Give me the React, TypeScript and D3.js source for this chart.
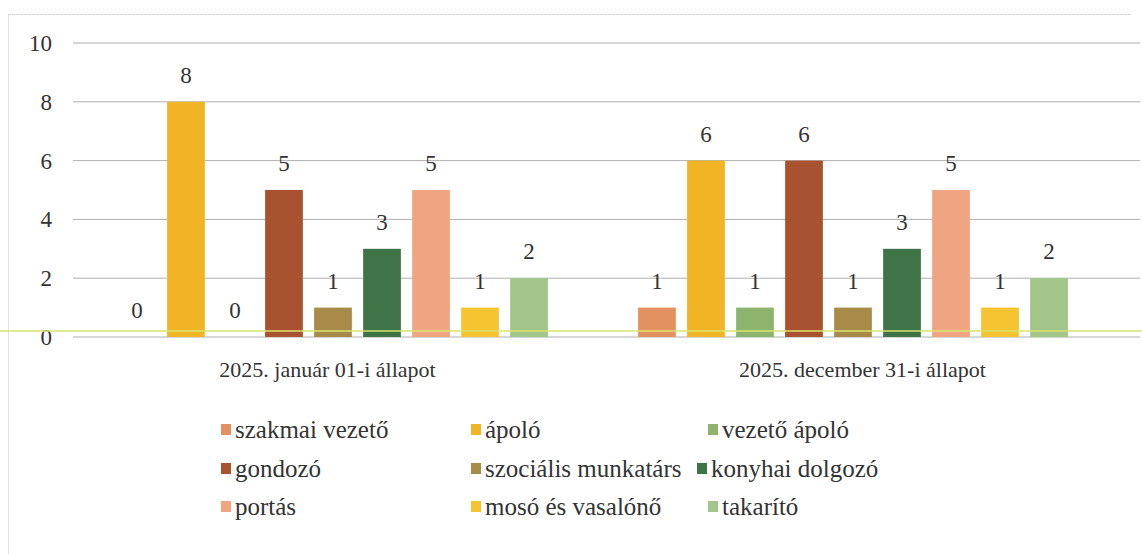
import React from "react";
import * as d3 from "d3";

const groups = ["2025. január 01-i állapot", "2025. december 31-i állapot"];
const seriesNames = [
  "szakmai vezető",
  "ápoló",
  "vezető ápoló",
  "gondozó",
  "szociális munkatárs",
  "konyhai dolgozó",
  "portás",
  "mosó és vasalónő",
  "takarító",
];
const valuesJan = [0, 8, 0, 5, 1, 3, 5, 1, 2];
const valuesDec = [1, 6, 1, 6, 1, 3, 5, 1, 2];
const colors = [
  "#E3915F",
  "#F1B424",
  "#8DB46C",
  "#A9522F",
  "#A98B49",
  "#3F7546",
  "#EFA582",
  "#F5C430",
  "#A2C68A",
];
const yTicks = [0, 2, 4, 6, 8, 10];

const W = 1142;
const H = 554;
const tStyle = { fontFamily: "serif" };

export default function App() {
  const data = [valuesJan, valuesDec];
  const y = d3.scaleLinear().domain([0, 10]).range([337, 43]);
  const x0 = d3.scaleBand<string>().domain(groups).range([73, 1113]).padding(0);
  const xLabel = d3.scaleBand<string>().domain(groups).range([60, 1130]).padding(0);
  const x1 = d3
    .scaleBand<string>()
    .domain(seriesNames)
    .range([0, x0.bandwidth()])
    .paddingInner(0.23)
    .paddingOuter(0.92);

  const legendCols = [221, 471, 708];
  const legendRows = [429, 468, 506];

  return (
    <svg
      width={W}
      height={H}
      style={{ position: "absolute", left: 0, top: 0, background: "#fff" }}
    >
      <rect x={0} y={0} width={W} height={H} fill="#fff" />
      {/* frame */}
      <line x1={8} x2={1132} y1={14.5} y2={14.5} stroke="#d6d6d6" strokeDasharray="3 1" />
      <line x1={8.5} x2={8.5} y1={14} y2={554} stroke="#e2e2e2" />
      {/* grid */}
      {yTicks.map((t) => (
        <g key={t}>
          <line x1={73} x2={1140} y1={y(t)} y2={y(t)} stroke="#9a9a9a" strokeWidth={0.8} />
          <text x={52} y={y(t)} dy="0.35em" textAnchor="end" fontSize={23} fill="#333" style={tStyle}>
            {t}
          </text>
        </g>
      ))}
      {/* bars */}
      {groups.map((g, gi) => (
        <g key={g} transform={`translate(${x0(g)},0)`}>
          {seriesNames.map((s, si) => {
            const v = data[gi][si];
            const bx = x1(s)!;
            return (
              <g key={s}>
                {v > 0 && (
                  <rect
                    x={bx}
                    y={y(v)}
                    width={x1.bandwidth()}
                    height={y(0) - y(v)}
                    fill={colors[si]}
                  />
                )}
                <text
                  x={bx + x1.bandwidth() / 2}
                  y={y(v) - 27}
                  textAnchor="middle"
                  fontSize={23}
                  fill="#333"
                  dy="0.35em"
                  style={tStyle}
                >
                  {v}
                </text>
              </g>
            );
          })}
        </g>
      ))}
      {/* category labels */}
      {groups.map((g) => (
        <text
          key={g}
          x={xLabel(g)! + xLabel.bandwidth() / 2}
          y={369}
          dy="0.35em"
          textAnchor="middle"
          fontSize={22}
          fill="#333"
          style={tStyle}
        >
          {g}
        </text>
      ))}
      {/* yellow-green baseline line */}
      <line x1={0} x2={W} y1={331} y2={331} stroke="#D8E46A" strokeWidth={1.5} />
      {/* legend */}
      {seriesNames.map((s, i) => {
        const col = i % 3;
        const row = Math.floor(i / 3);
        const lx = i === 5 ? 697 : legendCols[col];
        const ly = legendRows[row];
        return (
          <g key={s}>
            <rect x={lx} y={ly - 5} width={10} height={11} fill={colors[i]} />
            <text x={lx + 14} y={ly} dy="0.35em" fontSize={25} fill="#333" style={tStyle}>
              {s}
            </text>
          </g>
        );
      })}
    </svg>
  );
}
